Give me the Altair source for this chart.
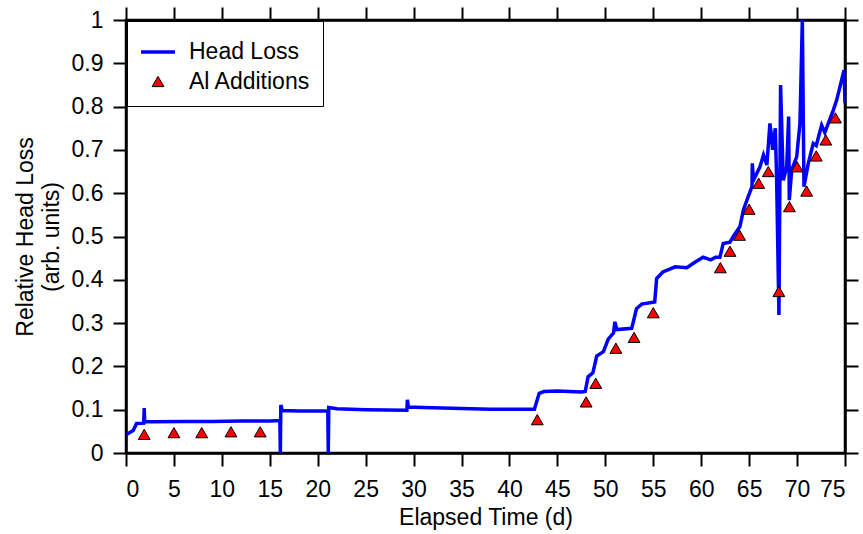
import altair as alt
import pandas as pd

# Head loss trace (elapsed days, relative head loss)
line_t = [0, 0.75, 1.1, 1.85, 1.9, 1.95, 3, 6, 9, 12, 15, 16.05, 16.1, 16.15, 16.3, 18,
          21.05, 21.1, 21.15, 22, 25, 29.3, 29.35, 29.45, 31, 35, 38, 42.6, 43.1, 43.6, 45,
          47.5, 47.9, 48.2, 48.7, 49.1, 49.8, 50.3, 50.85, 51.0, 51.2, 52.75, 53.25, 53.8,
          55.15, 55.35, 56.0, 57.3, 58.5, 59.3, 60.2, 61.0, 61.5, 61.95, 62.3, 63.0, 63.35,
          64.04, 64.4, 64.9, 65.3, 65.33, 65.45, 66.13, 66.5, 66.85, 67.17, 67.3, 67.45,
          67.73, 67.87, 68.11, 68.28, 68.56, 68.92, 69.12, 69.19, 69.44, 69.96, 70.3, 70.55,
          70.72, 71.17, 71.69, 72.0, 72.56, 72.9, 73.4, 73.78, 74.13, 74.48, 74.9, 75.0]
line_v = [0.042, 0.052, 0.068, 0.069, 0.104, 0.072, 0.072, 0.073, 0.073, 0.074, 0.074, 0.075,
          0.0, 0.111, 0.098, 0.097, 0.097, 0.0, 0.105, 0.102, 0.1, 0.099, 0.123, 0.106, 0.105,
          0.103, 0.101, 0.101, 0.138, 0.142, 0.143, 0.141, 0.142, 0.176, 0.185, 0.224, 0.234,
          0.263, 0.277, 0.303, 0.285, 0.288, 0.333, 0.344, 0.349, 0.403, 0.418, 0.43, 0.428,
          0.44, 0.452, 0.446, 0.452, 0.452, 0.484, 0.487, 0.5, 0.523, 0.561, 0.592, 0.615,
          0.669, 0.63, 0.661, 0.688, 0.665, 0.761, 0.738, 0.70, 0.75, 0.63, 0.319, 0.85, 0.63,
          0.661, 0.777, 0.584, 0.654, 0.684, 0.761, 1.0, 0.615, 0.669, 0.715, 0.71, 0.757,
          0.74, 0.77, 0.792, 0.815, 0.846, 0.884, 0.808]

# Al additions
add_t = [1.9, 5.0, 7.9, 10.95, 14.0, 42.9, 48.0, 49.0, 51.1, 53.0, 55.0, 62.0, 63.0, 64.0,
         65.0, 66.0, 67.0, 68.1, 69.2, 70.0, 71.0, 72.0, 73.0, 74.0]
add_v = [0.043, 0.047, 0.047, 0.049, 0.049, 0.077, 0.118, 0.161, 0.242, 0.267, 0.324, 0.428,
         0.466, 0.503, 0.563, 0.623, 0.650, 0.373, 0.569, 0.661, 0.605, 0.686, 0.723, 0.774]

series = ["Head Loss", "Al Additions"]
x_ticks = list(range(0, 76, 5))
y_ticks = [round(i * 0.1, 1) for i in range(11)]

line_df = pd.DataFrame({"t": line_t, "v": line_v, "series": series[0],
                        "i": range(len(line_t))})
pt_df = pd.DataFrame({"t": add_t, "v": add_v, "series": series[1]})

FONT = "Liberation Sans"
FS = 23

xscale = alt.Scale(domain=[0, 75], nice=False, zero=False)
yscale = alt.Scale(domain=[0, 1], nice=False)
stroke_scale = alt.Scale(domain=series, range=["#0000ff", "black"])
fill_scale = alt.Scale(domain=series, range=["transparent", "#ff0000"])
shape_scale = alt.Scale(domain=series, range=["stroke", "triangle-up"])
size_scale = alt.Scale(domain=series, range=[1156, 140])
sw_scale = alt.Scale(domain=series, range=[3.5, 1])

legend = alt.Legend(
    title=None, orient="none", legendX=1, legendY=1, padding=12,
    strokeColor="black", fillColor="white",
    labelFontSize=23, labelFont=FONT, labelColor="black", labelOffset=12,
    rowPadding=6, symbolOpacity=1,
)

line = alt.Chart(line_df).mark_line(clip=True).encode(
    x=alt.X("t:Q", scale=xscale,
            axis=alt.Axis(title="Elapsed Time (d)", values=x_ticks, format="d",
                          labelBaseline="top", labelPadding=12, titlePadding=5)),
    y=alt.Y("v:Q", scale=yscale,
            axis=alt.Axis(title=["Relative Head Loss", "(arb. units)"], values=y_ticks,
                          labelPadding=10, titlePadding=8, titleLineHeight=26,
                          labelExpr="datum.value == 0 ? '0' : datum.value == 1 ? '1' : format(datum.value, '.1f')")),
    stroke=alt.Stroke("series:N", scale=stroke_scale, legend=legend),
    strokeWidth=alt.StrokeWidth("series:N", scale=sw_scale, legend=legend),
    order="i:Q",
)

pts = alt.Chart(pt_df).mark_point(filled=True, opacity=1).encode(
    x=alt.X("t:Q", scale=xscale,
            axis=alt.Axis(orient="top", labels=False, title=None, values=x_ticks)),
    y=alt.Y("v:Q", scale=yscale,
            axis=alt.Axis(orient="right", labels=False, title=None, values=y_ticks)),
    stroke=alt.Stroke("series:N", scale=stroke_scale, legend=legend),
    fill=alt.Fill("series:N", scale=fill_scale, legend=legend),
    shape=alt.Shape("series:N", scale=shape_scale, legend=legend),
    size=alt.Size("series:N", scale=size_scale, legend=legend),
    strokeWidth=alt.StrokeWidth("series:N", scale=sw_scale, legend=legend),
)

chart = alt.layer(line, pts).resolve_axis(x="independent", y="independent").properties(
    width=719, height=433,
    autosize=alt.AutoSizeParams(type="none"),
    padding={"left": 126, "top": 20, "right": 18, "bottom": 81},
).configure_view(stroke="black", strokeWidth=2.5).configure_axis(
    grid=False, domain=True, domainColor="black", domainWidth=2.5,
    tickColor="black", tickWidth=2, tickSize=13,
    labelFont=FONT, labelFontSize=FS, labelColor="black",
    titleFont=FONT, titleFontSize=FS, titleColor="black", titleFontWeight="normal",
)

chart.save("out.html", embed_options={"renderer": "svg", "actions": False})
